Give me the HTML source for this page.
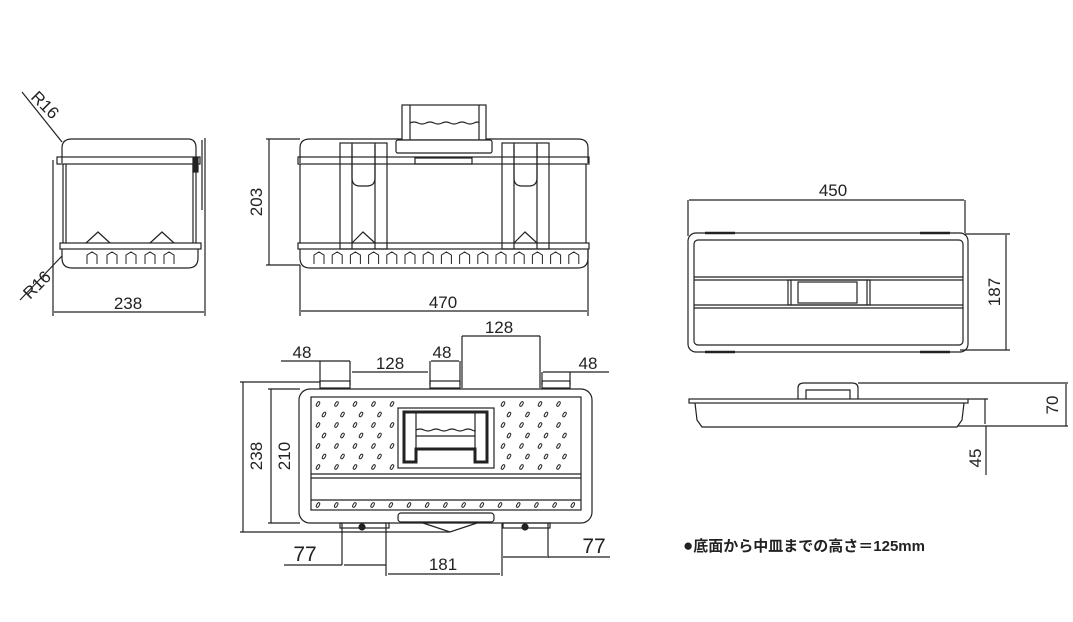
<!DOCTYPE html>
<html><head><meta charset="utf-8"><style>
html,body{margin:0;padding:0;background:#fff;width:1073px;height:622px;overflow:hidden}
svg{display:block}
text{font-family:"Liberation Sans","Noto Sans CJK JP",sans-serif;fill:#222}
.d{font-size:17px}
</style></head><body>
<svg id="s" width="1073" height="622" viewBox="0 0 1073 622" xmlns="http://www.w3.org/2000/svg">
<g fill="none" stroke="#222" stroke-width="1.2">
<path d="M62,163 L62,148 Q62,139 72,139 L188,139 Q196,139 196,148 L196,163"/>
<rect x="57" y="157" width="143" height="7"/>
<line x1="63" y1="164" x2="63" y2="243"/><line x1="66" y1="164" x2="66" y2="243"/>
<line x1="193" y1="164" x2="193" y2="243"/><line x1="196" y1="164" x2="196" y2="243"/>
<rect x="60" y="243" width="141" height="6"/>
<path d="M62,249 L62,258 Q62,268 72,268 L188,268 Q198,268 198,258 L198,249"/>
<rect x="193" y="158" width="5" height="14" fill="#222"/>
<line x1="202" y1="140" x2="202" y2="210"/>
<path d="M86,243 L98,232 L110,243 M150,243 L162,232 L174,243"/>
<line x1="22" y1="92" x2="62" y2="142"/>
<line x1="20" y1="300" x2="62" y2="256"/>
<line x1="53" y1="160" x2="53" y2="316"/><line x1="205" y1="138" x2="205" y2="316"/>
<line x1="54" y1="312" x2="204" y2="312"/>

<path d="M300,163 L300,148 Q300,139 310,139 L578,139 Q588,139 588,148 L588,163"/>
<rect x="298" y="157" width="291" height="7"/>
<line x1="300" y1="164" x2="300" y2="243"/><line x1="586" y1="164" x2="586" y2="243"/>
<rect x="298" y="243" width="291" height="6"/>
<path d="M300,249 L300,258 Q300,268 310,268 L578,268 Q588,268 588,258 L588,249"/>
<rect x="340" y="143" width="47" height="106"/><rect x="502" y="143" width="47" height="106"/>
<line x1="352" y1="143" x2="352" y2="249"/><line x1="375" y1="143" x2="375" y2="249"/>
<line x1="514" y1="143" x2="514" y2="249"/><line x1="537" y1="143" x2="537" y2="249"/>
<path d="M352,145 L352,178 Q352,186 360,186 L367,186 Q375,186 375,178 L375,145"/>
<path d="M514,145 L514,178 Q514,186 522,186 L529,186 Q537,186 537,178 L537,145"/>
<path d="M352,243 L363,232 L375,243 M514,243 L525,232 L537,243"/>
<rect x="402" y="105" width="84" height="35" fill="#fff"/>
<line x1="410" y1="105" x2="410" y2="140"/><line x1="479" y1="105" x2="479" y2="140"/>
<path d="M410,123 q4,-2 8,0 t8,0 t8,0 t8,0 t8,0 t8,0 t8,0 t8,0 t5,0"/>
<rect x="396" y="140" width="96" height="13" rx="2" fill="#fff"/>
<rect x="415" y="158" width="57" height="6"/>
<line x1="269" y1="139" x2="269" y2="265"/>
<line x1="266" y1="139" x2="300" y2="139"/><line x1="266" y1="265" x2="300" y2="265"/>
<line x1="300" y1="265" x2="300" y2="316"/><line x1="588" y1="250" x2="588" y2="316"/>
<line x1="301" y1="311" x2="587" y2="311"/>

<rect x="299" y="389" width="293" height="134" rx="11"/>
<rect x="311" y="397" width="270" height="113"/>
<line x1="311" y1="474" x2="581" y2="474"/><line x1="311" y1="478" x2="581" y2="478"/>
<line x1="311" y1="500" x2="581" y2="500"/>
<rect x="398" y="408" width="96" height="60" fill="#fff"/>
<path d="M404,412 L487,412 L487,462 L475,462 L475,449 L416,449 L416,462 L404,462 Z" stroke-width="3"/>
<line x1="416" y1="412" x2="416" y2="449"/><line x1="475" y1="412" x2="475" y2="449"/>
<path d="M416,430 q4,-2 8,0 t8,0 t8,0 t8,0 t8,0 t8,0 t8,0 t3,0"/>
<line x1="416" y1="436" x2="475" y2="436"/>
<rect x="320" y="381" width="30" height="7"/><rect x="430" y="381" width="30" height="7"/><rect x="542" y="381" width="28" height="7"/>
<rect x="398" y="513" width="96" height="9" rx="3"/>
<rect x="340" y="523" width="49" height="5"/><rect x="503" y="523" width="47" height="5"/>
<path d="M423,523 L450,532 L477,523"/>
<circle cx="362" cy="527" r="3" fill="#222"/><circle cx="525" cy="527" r="3" fill="#222"/>
<line x1="243" y1="382" x2="243" y2="532"/><line x1="240" y1="382" x2="320" y2="382"/><line x1="240" y1="532" x2="450" y2="532"/>
<line x1="271" y1="389" x2="271" y2="523"/><line x1="268" y1="389" x2="300" y2="389"/><line x1="268" y1="523" x2="300" y2="523"/>
<line x1="281" y1="361" x2="321" y2="361"/><line x1="321" y1="361" x2="350" y2="361"/>
<line x1="320" y1="361" x2="320" y2="385"/><line x1="350" y1="361" x2="350" y2="385"/>
<line x1="352" y1="372" x2="428" y2="372"/>
<line x1="431" y1="361" x2="459" y2="361"/><line x1="430" y1="361" x2="430" y2="385"/><line x1="460" y1="361" x2="460" y2="385"/>
<line x1="462" y1="336" x2="540" y2="336"/><line x1="462" y1="336" x2="462" y2="388"/><line x1="540" y1="336" x2="540" y2="388"/>
<line x1="543" y1="372" x2="609" y2="372"/><line x1="542" y1="372" x2="542" y2="385"/><line x1="570" y1="372" x2="570" y2="385"/>
<line x1="342" y1="523" x2="342" y2="565"/><line x1="386" y1="523" x2="386" y2="576"/>
<line x1="502" y1="523" x2="502" y2="576"/><line x1="548" y1="523" x2="548" y2="558"/>
<line x1="284" y1="565" x2="342" y2="565"/><line x1="344" y1="565" x2="386" y2="565"/>
<line x1="388" y1="574" x2="500" y2="574"/>
<line x1="503" y1="557" x2="547" y2="557"/><line x1="548" y1="557" x2="610" y2="557"/>

<rect x="688" y="233" width="280" height="119" rx="8"/>
<rect x="694" y="240" width="269" height="105" rx="4"/>
<line x1="694" y1="277" x2="963" y2="277"/><line x1="694" y1="280" x2="963" y2="280"/>
<line x1="694" y1="305" x2="963" y2="305"/><line x1="694" y1="308" x2="963" y2="308"/>
<rect x="788" y="280" width="82" height="25"/><rect x="798" y="282" width="59" height="21"/>
<line x1="791" y1="280" x2="791" y2="305"/><line x1="867" y1="280" x2="867" y2="305"/>
<g stroke-width="2.5"><line x1="705" y1="233" x2="735" y2="233"/><line x1="920" y1="233" x2="950" y2="233"/><line x1="705" y1="352" x2="735" y2="352"/><line x1="920" y1="352" x2="950" y2="352"/></g>
<line x1="688" y1="200" x2="688" y2="236"/><line x1="965" y1="200" x2="965" y2="233"/>
<line x1="689" y1="200" x2="964" y2="200"/>
<line x1="965" y1="234" x2="1010" y2="234"/><line x1="960" y1="350" x2="1010" y2="350"/>
<line x1="1006" y1="235" x2="1006" y2="350"/>
<path d="M798,399 L798,388 Q798,383 804,383 L852,383 Q858,383 858,388 L858,399"/>
<path d="M806,399 L806,390 L850,390 L850,399"/>
<rect x="689" y="399" width="279" height="4"/>
<path d="M695,403 L697,420 L702,427 L957,427 L962,420 L964,403"/>
<line x1="858" y1="383" x2="1068" y2="383"/>
<line x1="958" y1="426" x2="1068" y2="426"/>
<line x1="1066" y1="384" x2="1066" y2="426"/>
<line x1="968" y1="399" x2="988" y2="399"/>
<line x1="985" y1="399" x2="985" y2="424"/>
<line x1="986" y1="426" x2="986" y2="475"/>
<g id="gen" stroke-width="1"></g>
</g>
<g>
<text class="d" transform="translate(30,98) rotate(45)">R16</text>
<text class="d" transform="translate(30,300) rotate(-45)">R16</text>
<text class="d" x="128" y="309" text-anchor="middle">238</text>
<text class="d" transform="translate(262,202) rotate(-90)" text-anchor="middle">203</text>
<text class="d" x="443" y="308" text-anchor="middle">470</text>
<text class="d" x="302" y="358" text-anchor="middle">48</text>
<text class="d" x="390" y="369" text-anchor="middle">128</text>
<text class="d" x="442" y="358" text-anchor="middle">48</text>
<text class="d" x="499" y="333" text-anchor="middle">128</text>
<text class="d" x="588" y="369" text-anchor="middle">48</text>
<text class="d" transform="translate(262,456) rotate(-90)" text-anchor="middle">238</text>
<text class="d" transform="translate(290,456) rotate(-90)" text-anchor="middle">210</text>
<text class="d" x="305" y="561" text-anchor="middle" style="font-size:21px">77</text>
<text class="d" x="443" y="570" text-anchor="middle">181</text>
<text class="d" x="594" y="553" text-anchor="middle" style="font-size:21px">77</text>
<text class="d" x="833" y="196" text-anchor="middle">450</text>
<text class="d" transform="translate(1000,292) rotate(-90)" text-anchor="middle">187</text>
<text class="d" transform="translate(1058,405) rotate(-90)" text-anchor="middle">70</text>
<text class="d" transform="translate(981,458) rotate(-90)" text-anchor="middle">45</text>
<text x="683" y="551" style="font-size:15px;font-weight:bold"><tspan style="font-size:17px">●</tspan>底面から中皿までの高さ＝125mm</text>
</g>
</svg>
<script>
var g=document.getElementById('gen'),h='';
function tooth(x,y,w,hh){h+='<path d="M'+x+','+(y+hh)+' L'+x+','+(y+3)+' L'+(x+w/2)+','+y+' L'+(x+w)+','+(y+3)+' L'+(x+w)+','+(y+hh)+'"/>';}
[87,107,126,145,164].forEach(function(x){tooth(x,252,10,12);});
for(var i=0;i<15;i++)tooth(314+i*18.2,252,10,12);
function drop(x,y){h+='<ellipse cx="'+x+'" cy="'+y+'" rx="1.3" ry="2.6" transform="rotate(30 '+x+' '+y+')"/>';}
for(var r=0;r<7;r++){for(var c=0;c<15;c++){var x=318+c*18.5+(r%2?6:0),y=404+r*10.5;if(x>394&&x<498&&y<470)continue;if(x>575)continue;drop(x,y);}}
for(var c=0;c<15;c++)drop(318+c*18.2,505);
g.innerHTML=h;
</script>
</body></html>
